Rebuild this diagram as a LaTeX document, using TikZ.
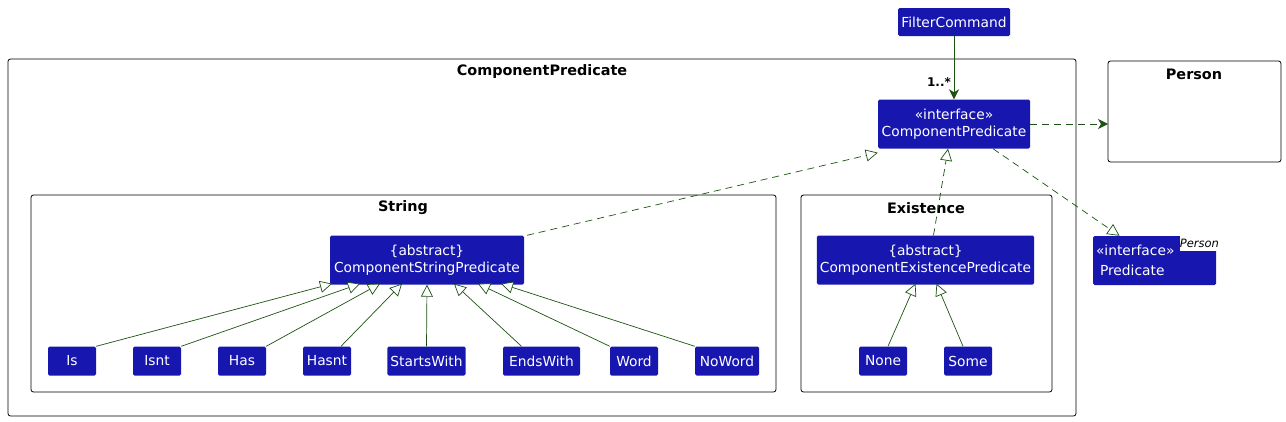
\documentclass[tikz,border=0pt]{standalone}
\usepackage{fontspec}
\setmainfont{DejaVu Sans}
\usetikzlibrary{arrows.meta}
\definecolor{classblue}{RGB}{23,23,176}
\definecolor{linkgreen}{RGB}{28,82,18}
\tikzset{
  cls/.style={fill=classblue, text=white, rounded corners=1.5pt, inner xsep=3pt, inner ysep=0pt,
    minimum width=48pt, minimum height=29pt, font=\fontsize{13.8}{17}\selectfont, align=center},
  cls2/.style={cls, minimum height=49pt},
  pkg/.style={draw=black, line width=0.8pt, rounded corners=2.5pt},
  pkgtitle/.style={font=\bfseries\fontsize{14.4}{16}\selectfont},
  extends/.style={draw=linkgreen, line width=0.7pt, -{Triangle[open, length=12pt, width=12pt, fill=white]}},
  implements/.style={extends, dash pattern=on 7pt off 5pt},
  uses/.style={draw=linkgreen, line width=0.8pt, dash pattern=on 7pt off 5pt, -{Stealth[length=10pt, width=10pt, inset=3pt]}},
  assoc/.style={draw=linkgreen, line width=0.8pt, -{Stealth[length=10pt, width=10pt, inset=3pt]}}
}
\begin{document}
\begin{tikzpicture}[x=1pt, y=-1pt]
    \useasboundingbox (0,0) rectangle (1286,421);
    % Packages
    \draw[pkg] (8,59) rectangle (1076,416);
    \node[pkgtitle] (cptitle) at (542,72) {ComponentPredicate};
    \draw[pkg] (31,195) rectangle (776,392);
    \node[pkgtitle] (strtitle) at (403,208) {String};
    \draw[pkg] (801,195) rectangle (1052,392);
    \node[pkgtitle] (extitle) at (926,208) {Existence};
    \draw[pkg] (1108,61) rectangle (1281,162);
    \node[pkgtitle] (persontitle) at (1194,74) {Person};
    \coordinate (person) at (1108,124);
    % Classes
    \node[cls, minimum width=112pt, minimum height=28pt] (filter) at (954,22) {FilterCommand};
    \node[cls2, minimum width=152pt] (cp) at (954,124) {«interface»\\ComponentPredicate};
    \node[cls2, minimum width=194pt] (csp) at (427,260) {\{abstract\}\\ComponentStringPredicate};
    \node[cls2, minimum width=217pt] (cep) at (925.5,260) {\{abstract\}\\ComponentExistencePredicate};
    \node[cls2, text width=117pt, align=left] (pred) at (1154.5,260.5)
      {«interface»\\[3pt]\hspace*{4pt}Predicate};
    \node[fill=white, inner sep=0pt, minimum width=37pt, minimum height=15pt,
      font=\itshape\fontsize{11.5}{13}\selectfont] (predtype) at (1199.5,243) {Person};
    % Leaves
    \node[cls] (is) at (72,361) {Is};
    \node[cls] (isnt) at (157,361) {Isnt};
    \node[cls] (has) at (242,361) {Has};
    \node[cls] (hasnt) at (327,361) {Hasnt};
    \node[cls, minimum width=77pt] (startswith) at (426.5,361) {StartsWith};
    \node[cls, minimum width=77pt] (endswith) at (541.5,361) {EndsWith};
    \node[cls] (word) at (634,361) {Word};
    \node[cls, minimum width=64pt] (noword) at (727,361) {NoWord};
    \node[cls] (none) at (883,361) {None};
    \node[cls] (some) at (968,361) {Some};
    % Links
    \draw[assoc] (filter) -- (cp);
    \node[font=\bfseries\fontsize{12}{14}\selectfont] (mult) at (939,82) {1..*};
    \draw[uses] (cp) -- (person);
    \draw[implements] ([xshift=39pt]cp.south) -- ([xshift=-35pt]pred.north);
    \draw[implements] ([xshift=100pt]csp.north) -- ([yshift=-4pt]cp.south west);
    \draw[implements] ([xshift=8pt]cep.north) -- ([xshift=-6pt]cp.south);
    \draw[extends] (is.north east) -- ([xshift=-95pt, yshift=1pt]csp.south);
    \draw[extends] (isnt.north east) -- ([xshift=-67pt, yshift=1pt]csp.south);
    \draw[extends] (has.north east) -- ([xshift=-47pt, yshift=1pt]csp.south);
    \draw[extends] ([xshift=14pt]hasnt.north) -- ([xshift=-25pt, yshift=1pt]csp.south);
    \draw[extends] (startswith.north) -- (csp.south);
    \draw[extends] ([xshift=-20pt]endswith.north) -- ([xshift=27pt, yshift=1pt]csp.south);
    \draw[extends] (word.north west) -- ([xshift=51pt, yshift=1pt]csp.south);
    \draw[extends] (noword.north west) -- ([xshift=74pt, yshift=1pt]csp.south);
    \draw[extends] ([xshift=5pt]none.north) -- ([xshift=-10pt, yshift=1pt]cep.south);
    \draw[extends] ([xshift=-5pt]some.north) -- ([xshift=11pt, yshift=1pt]cep.south);
\end{tikzpicture}
\end{document}
